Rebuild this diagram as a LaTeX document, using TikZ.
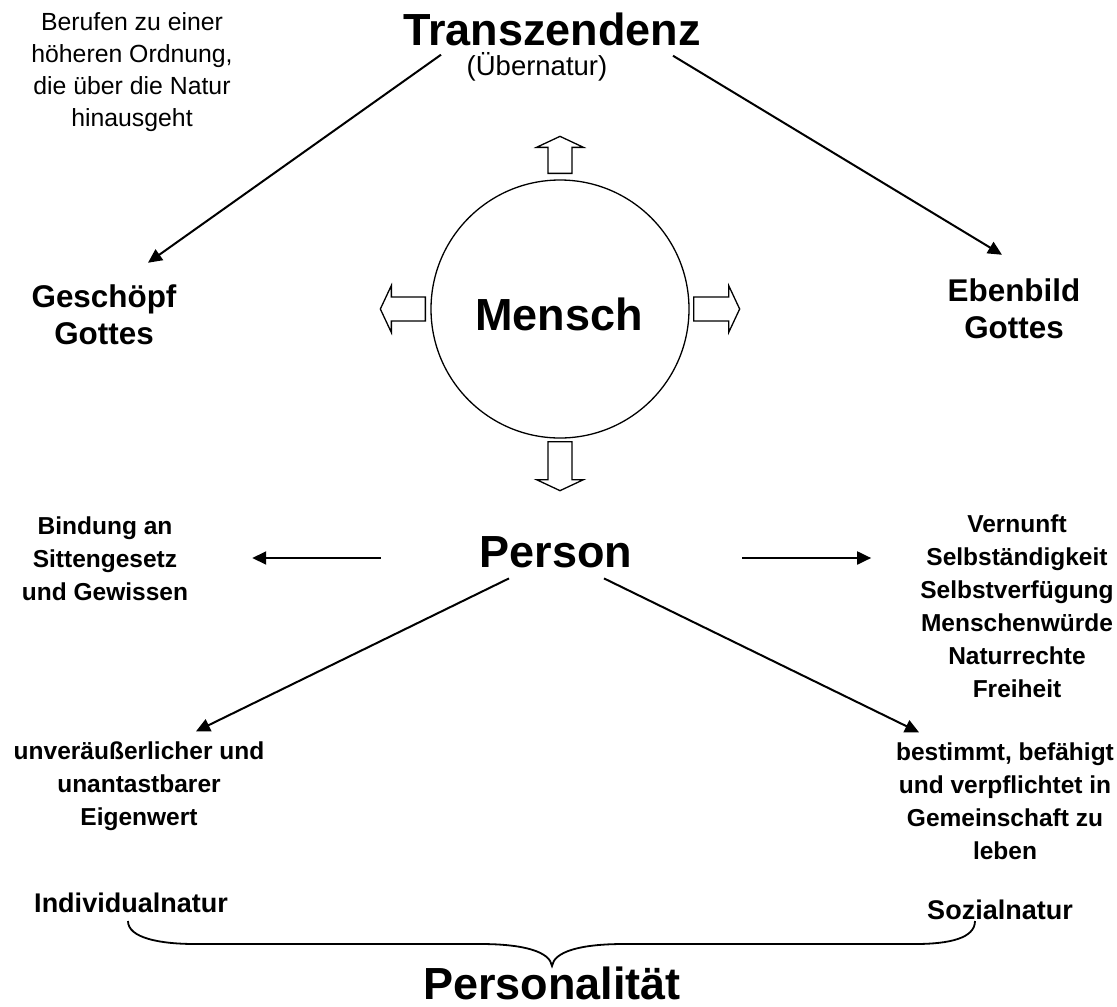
\documentclass[tikz,border=0pt]{standalone}
\usepackage{fontspec}
\setmainfont{Liberation Sans}
\usetikzlibrary{arrows.meta}

\begin{document}
\begin{tikzpicture}[x=1pt,y=-1pt,
  big/.style={font=\fontsize{45}{54}\selectfont\bfseries,inner sep=0pt},
  mid/.style={font=\fontsize{31.4}{37}\selectfont\bfseries,align=center,inner sep=0pt},
  lbl/.style={font=\fontsize{24.5}{33}\selectfont\bfseries,align=center,inner sep=0pt},
  nat/.style={font=\fontsize{27}{32}\selectfont\bfseries,inner sep=0pt},
  conn/.style={line width=2pt,-{Triangle[length=14pt,width=13pt]}},
  pics/hollow/.style={code={\draw[line width=1.3pt,fill=white] (0,-12) -- (#1,-12) -- (#1,-23.5) -- ++(11,23.5) -- (#1,23.5) -- (#1,12) -- (0,12) -- cycle;}}]
  \useasboundingbox (0,0) rectangle (1117,1007);

  % oben
  \node[big] (trans) at (552,29) {Transzendenz};
  \node[inner sep=0pt,font=\fontsize{27.5}{33}\selectfont] (uebernatur) at (537,67) {(Übernatur)};
  \node[inner sep=0pt,align=center,font=\fontsize{24.8}{32}\selectfont] (berufen) at (132,72) {Berufen zu einer\\höheren Ordnung,\\die über die Natur\\hinausgeht};
  \node[mid] (geschoepf) at (104,315) {Geschöpf\\Gottes};
  \node[mid] (ebenbild) at (1014,309) {Ebenbild\\Gottes};

  % Mensch mit Blockpfeilen
  \node[circle,draw,line width=1.3pt,minimum size=258pt,inner sep=0pt] (mensch) at (560,309) {};
  \node[big] (menschtxt) at (559,314) {Mensch};
  \pic[rotate=90] at ([yshift=6pt]mensch.north) {hollow=26};
  \pic[rotate=180] at ([xshift=-5pt]mensch.west) {hollow=34};
  \pic at ([xshift=4pt]mensch.east) {hollow=35};
  \pic[rotate=-90] at ([yshift=-3pt]mensch.south) {hollow=38};

  % Person
  \node[big] (person) at (556,552) {Person};
  \node[lbl] (bindung) at (105,559) {Bindung an\\Sittengesetz\\und Gewissen};
  \node[lbl] (attrib) at (1017,606.5) {Vernunft\\Selbständigkeit\\Selbstverfügung\\Menschenwürde\\Naturrechte\\Freiheit};
  \node[lbl] (eigenwert) at (139,786) {unveräußerlicher und\\unantastbarer\\Eigenwert};
  \node[lbl] (gemeinschaft) at (1005,801) {bestimmt, befähigt\\und verpflichtet in\\Gemeinschaft zu\\leben};

  % unten
  \node[nat] (indiv) at (131,903) {Individualnatur};
  \node[nat] (sozial) at (1000,910) {Sozialnatur};
  \node[big] (personal) at (552,983) {Personalität};

  \draw[conn] ([xshift=-111pt,yshift=-9pt]trans.south) -- ([xshift=44pt,yshift=22pt]geschoepf.north);
  \draw[conn] ([xshift=121pt,yshift=-10pt]trans.south) -- ([xshift=-12pt,yshift=24pt]ebenbild.north);
  \draw[conn] ([xshift=-99pt,yshift=-6pt]person.west) -- ([xshift=64pt,yshift=1pt]bindung.east);
  \draw[conn] ([xshift=110pt,yshift=-6pt]person.east) -- ([xshift=-49pt,yshift=48.5pt]attrib.west);
  \draw[conn] ([xshift=-47pt,yshift=-10.5pt]person.south) -- ([xshift=57pt,yshift=10pt]eigenwert.north);
  \draw[conn] ([xshift=48pt,yshift=-10.5pt]person.south) -- ([xshift=-86pt,yshift=10pt]gemeinschaft.north);

  % Klammer
  \draw[line width=1.8pt] (128,921) .. controls (128,938) and (160,944) .. (195,944) -- (480,944)
    .. controls (525,944) and (550,952) .. (552,966) .. controls (554,952) and (579,944) .. (624,944)
    -- (915,944) .. controls (950,944) and (975,938) .. (975,921);
\end{tikzpicture}
\end{document}
